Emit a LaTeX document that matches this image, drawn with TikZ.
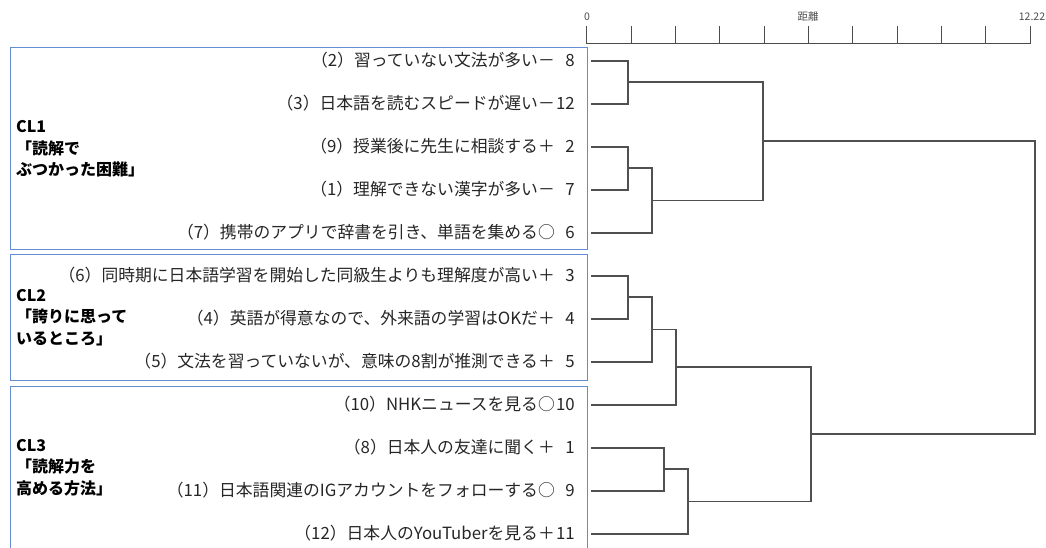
\documentclass[tikz,border=0pt]{standalone}
\usepackage{fontspec}
\setmainfont{Noto Sans CJK JP}
\definecolor{boxblue}{RGB}{100,140,210}
\definecolor{dendgray}{RGB}{80,80,80}
\begin{document}
\begin{tikzpicture}[x=1pt,y=-1pt,
  item/.style={anchor=base east,inner sep=0pt,font=\fontsize{16.8}{18}\selectfont,text=black!85},
  num/.style={anchor=base east,inner sep=0pt,font=\fontsize{16.8}{18}\selectfont,text=black!85},
  cl/.style={anchor=west,inner sep=0pt,align=left,font=\bfseries\fontsize{16}{21.5}\selectfont},
  dend/.style={draw=dendgray,line width=1.8pt},
  clbox/.style={draw=boxblue,line width=0.9pt},
  axisline/.style={draw=black!70,line width=0.9pt},
  axlab/.style={font=\fontsize{10.5}{11}\selectfont,text=black!70,inner sep=0pt}]
\useasboundingbox (0,0) rectangle (1046,547);

% cluster boxes
\draw[clbox] (10,47) rectangle (587,249);
\draw[clbox] (10,254) rectangle (587,380);
\draw[clbox] (10,550) |- (587,386) -- (587,550);

% cluster labels
\node[cl] (cl1) at (16,149) {CL1\\「読解で\\ぶつかった困難」};
\node[cl] (cl2) at (16,317.5) {CL2\\「誇りに思って\\いるところ」};
\node[cl] (cl3) at (16,467.5) {CL3\\「読解力を\\高める方法」};

% axis
\draw[axisline] (586.7,43.5) -- (1030,43.5);
\foreach \i in {0,...,10}{
  \draw[axisline] (586.7+44.33*\i,43.5) -- (586.7+44.33*\i,25.7);
}
\node[axlab] (ax0) at (587,17) {0};
\node[axlab] (axt) at (808,17) {距離};
\node[axlab] (axm) at (1032,17) {12.22};

% item labels
\node[item] (t8)  at (555,66.7)  {（2）習っていない文法が多い－};
\node[item] (t12) at (555,109.7) {（3）日本語を読むスピードが遅い－};
\node[item] (t2)  at (555,152.7) {（9）授業後に先生に相談する＋};
\node[item] (t7)  at (555,195.7) {（1）理解できない漢字が多い－};
\node[item] (t6)  at (555,238.7) {（7）携帯のアプリで辞書を引き、単語を集める○};
\node[item] (t3)  at (555,281.7) {（6）同時期に日本語学習を開始した同級生よりも理解度が高い＋};
\node[item] (t4)  at (555,324.7) {（4）英語が得意なので、外来語の学習はOKだ＋};
\node[item] (t5)  at (555,367.7) {（5）文法を習っていないが、意味の8割が推測できる＋};
\node[item] (t10) at (555,410.7) {（10）NHKニュースを見る○};
\node[item] (t1)  at (555,453.7) {（8）日本人の友達に聞く＋};
\node[item] (t9)  at (555,496.7) {（11）日本語関連のIGアカウントをフォローする○};
\node[item] (t11) at (555,539.7) {（12）日本人のYouTuberを見る＋};

\node[num] (n8)  at (575,66.7)  {8};
\node[num] (n12) at (575,109.7) {12};
\node[num] (n2)  at (575,152.7) {2};
\node[num] (n7)  at (575,195.7) {7};
\node[num] (n6)  at (575,238.7) {6};
\node[num] (n3)  at (575,281.7) {3};
\node[num] (n4)  at (575,324.7) {4};
\node[num] (n5)  at (575,367.7) {5};
\node[num] (n10) at (575,410.7) {10};
\node[num] (n1)  at (575,453.7) {1};
\node[num] (n9)  at (575,496.7) {9};
\node[num] (n11) at (575,539.7) {11};

% leaf starts
\coordinate (l8)  at (591,60.7);
\coordinate (l12) at (591,103.7);
\coordinate (l2)  at (591,146.7);
\coordinate (l7)  at (591,189.7);
\coordinate (l6)  at (591,232.7);
\coordinate (l3)  at (591,275.7);
\coordinate (l4)  at (591,318.7);
\coordinate (l5)  at (591,361.7);
\coordinate (l10) at (591,404.7);
\coordinate (l1)  at (591,447.7);
\coordinate (l9)  at (591,490.7);
\coordinate (l11) at (591,533.7);

% merge points
\coordinate (m1)  at (627.7,82.2);
\coordinate (m2)  at (627.7,168.2);
\coordinate (m3)  at (651.7,200.5);
\coordinate (m4)  at (763,141.3);
\coordinate (m5)  at (627.7,297.2);
\coordinate (m6)  at (651.7,329.5);
\coordinate (m7)  at (676,367.1);
\coordinate (m8)  at (663.7,469.2);
\coordinate (m9)  at (688,501.5);
\coordinate (m10) at (810.7,434.3);
\coordinate (m11) at (1035.3,287.8);

\draw[dend] (l8) -| (m1) |- (l12);
\draw[dend] (l2) -| (m2) |- (l7);
\draw[dend] (m2) -| (m3) |- (l6);
\draw[dend] (m1) -| (m4) |- (m3);
\draw[dend] (l3) -| (m5) |- (l4);
\draw[dend] (m5) -| (m6) |- (l5);
\draw[dend] (m6) -| (m7) |- (l10);
\draw[dend] (l1) -| (m8) |- (l9);
\draw[dend] (m8) -| (m9) |- (l11);
\draw[dend] (m7) -| (m10) |- (m9);
\draw[dend] (m4) -| (m11) |- (m10);
\end{tikzpicture}
\end{document}
